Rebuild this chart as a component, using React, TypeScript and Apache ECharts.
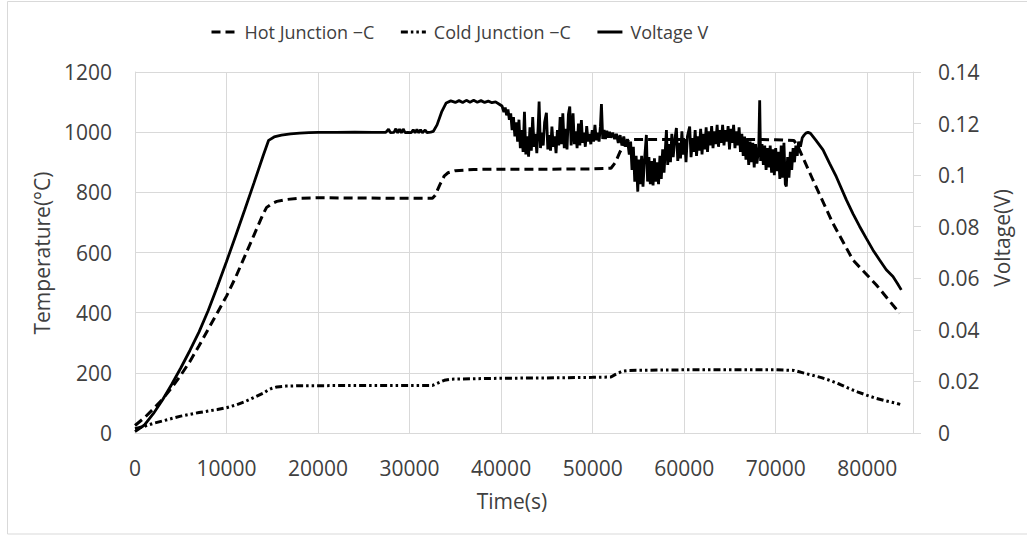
import React, { useEffect, useRef } from 'react';
import * as echarts from 'echarts';

// [time (s), temperature (°C)]
const hotJunction: [number, number][] = [
  [0, 25], [1000, 50], [2000, 80], [3000, 112], [4000, 150], [5000, 192], [6000, 238], [7000, 290],
  [8000, 345], [9000, 400], [10000, 455], [11000, 518], [12000, 588], [13000, 658], [14000, 728],
  [14380, 750], [15000, 763], [15500, 770], [16500, 776], [17700, 780], [20000, 782], [25000, 781],
  [30000, 780], [32500, 780], [32800, 790], [33300, 825], [33800, 855], [34200, 865], [35000, 872],
  [37000, 876], [40000, 877], [45000, 877], [50000, 878], [52000, 880], [52500, 900], [53000, 935],
  [53500, 965], [54000, 975], [56000, 976], [60000, 976], [65000, 976], [70000, 975], [72000, 972],
  [72440, 952], [74070, 841], [76250, 697], [78440, 575], [81000, 492], [83540, 398]
];

const coldJunction: [number, number][] = [
  [0, 14], [1000, 22], [2000, 32], [3000, 40], [4000, 48], [5000, 56], [6000, 62], [7000, 68],
  [8000, 73], [9000, 78], [10000, 84], [11000, 93], [12000, 104], [13000, 118], [14000, 132],
  [14500, 142], [15000, 149], [15500, 153], [16500, 156], [17700, 157], [25000, 158], [32500, 158],
  [33000, 165], [33800, 175], [34600, 179], [40000, 182], [45000, 183], [50000, 185], [52000, 186],
  [52500, 195], [53200, 205], [54000, 208], [60000, 210], [65000, 210], [70000, 210], [72000, 208],
  [73000, 200], [74000, 192], [75000, 184], [76000, 174], [77000, 162], [78000, 148], [79000, 136],
  [80000, 125], [81000, 115], [82000, 107], [83000, 100], [83600, 95]
];

// [time (s), voltage (V)]
const voltage: [number, number][] = [
  [0, 0.0005], [1000, 0.003], [2000, 0.0075], [3000, 0.0128], [4000, 0.0188], [5000, 0.0252],
  [6000, 0.032], [7000, 0.0392], [8000, 0.0475], [9000, 0.0568], [10000, 0.0665], [11000, 0.0765],
  [12000, 0.0867], [13000, 0.097], [14000, 0.1075], [14600, 0.1135], [15200, 0.1148],
  [16000, 0.1155], [17000, 0.116], [18000, 0.1163], [19000, 0.1165], [20000, 0.1166], [22000, 0.1166],
  [24000, 0.1167], [26000, 0.1166], [27400, 0.1166], [27700, 0.1178], [27900, 0.1165], [28300, 0.1166],
  [28500, 0.118], [28700, 0.1164], [28900, 0.1178], [29100, 0.1164], [29300, 0.1179], [29500, 0.1165],
  [29800, 0.1166], [30200, 0.1165], [30400, 0.1176], [30600, 0.1164], [30800, 0.1177], [31000, 0.1164],
  [31200, 0.1176], [31400, 0.1164], [31700, 0.1175], [31900, 0.1165], [32300, 0.1167], [32600, 0.117],
  [33000, 0.1195], [33500, 0.1245], [34000, 0.128], [34500, 0.1288], [35000, 0.1282], [35400, 0.1289],
  [35800, 0.1282], [36200, 0.129], [36600, 0.1283], [37000, 0.129], [37400, 0.1283], [37800, 0.1289],
  [38200, 0.1282], [38600, 0.1287], [39000, 0.1281], [39400, 0.1284], [39800, 0.1275], [40100, 0.1268],
  [40300, 0.1245], [40450, 0.1262], [40600, 0.1232], [40750, 0.1255], [40900, 0.1215], [41050, 0.124],
  [41200, 0.1175], [41350, 0.1225], [41500, 0.115], [41650, 0.1205],
  [41800, 0.113], [41950, 0.1215], [42100, 0.1105], [42250, 0.1175], [42400, 0.109], [42550, 0.1246],
  [42700, 0.108], [42850, 0.115], [43000, 0.1072], [43150, 0.1185], [43300, 0.1095], [43450, 0.1225],
  [43600, 0.111], [43750, 0.116], [43900, 0.1085], [44050, 0.119], [44150, 0.1285], [44300, 0.1105],
  [44450, 0.1165], [44600, 0.1115], [44750, 0.1205], [44950, 0.1242], [45100, 0.11], [45250, 0.1155],
  [45400, 0.1095], [45550, 0.1188], [45700, 0.111], [45850, 0.115], [46000, 0.1085], [46150, 0.1175],
  [46300, 0.1115], [46450, 0.1225], [46600, 0.112], [46740, 0.124], [46900, 0.1105], [47050, 0.118],
  [47200, 0.11], [47350, 0.1235], [47500, 0.1266], [47650, 0.1115], [47860, 0.124], [48000, 0.112],
  [48150, 0.117], [48300, 0.1105], [48450, 0.12], [48600, 0.1115], [48770, 0.1214], [48900, 0.1125],
  [49050, 0.1165], [49200, 0.111], [49350, 0.119], [49500, 0.113], [49650, 0.116], [49800, 0.112],
  [49950, 0.1175], [50100, 0.113], [50250, 0.1195], [50400, 0.1135], [50550, 0.1165], [50700, 0.113],
  [50850, 0.119], [50960, 0.1276], [51100, 0.114], [51250, 0.1175], [51400, 0.114], [51550, 0.1172],
  [51700, 0.1145], [51850, 0.1168], [52000, 0.1145], [52200, 0.1165], [52400, 0.114], [52600, 0.116],
  [52800, 0.1125], [53000, 0.1155], [53200, 0.1115], [53400, 0.115], [53600, 0.111], [53800, 0.114],
  [54000, 0.108], [54150, 0.113], [54300, 0.102], [54450, 0.111], [54600, 0.0975], [54750, 0.1075],
  [54930, 0.0936], [55050, 0.106], [55200, 0.0965], [55350, 0.1075], [55500, 0.0955], [55650, 0.105],
  [55870, 0.1156], [56000, 0.0975], [56150, 0.107], [56300, 0.0965], [56450, 0.1055], [56600, 0.096],
  [56750, 0.1065], [56900, 0.0975], [57050, 0.105], [57200, 0.0965], [57350, 0.1075], [57500, 0.0985],
  [57650, 0.11], [57800, 0.101], [58060, 0.1175], [58200, 0.104], [58350, 0.112], [58500, 0.105],
  [58650, 0.116], [58800, 0.107], [58950, 0.113], [59150, 0.1183], [59300, 0.1055], [59450, 0.1125],
  [59600, 0.1065], [59750, 0.117], [59900, 0.108], [60050, 0.114], [60200, 0.105], [60350, 0.115],
  [60600, 0.1188], [60750, 0.107], [60900, 0.1135], [61050, 0.109], [61200, 0.1175], [61350, 0.1075],
  [61500, 0.115], [61650, 0.1095], [61800, 0.118], [61950, 0.108], [62100, 0.116], [62250, 0.11],
  [62400, 0.1185], [62550, 0.109], [62700, 0.117], [62850, 0.1115], [63000, 0.119], [63150, 0.1105],
  [63300, 0.117], [63450, 0.112], [63600, 0.1195], [63750, 0.111], [63900, 0.1175], [64050, 0.1125],
  [64200, 0.1195], [64350, 0.1115], [64500, 0.1175], [64650, 0.113], [64800, 0.119], [64950, 0.11],
  [65100, 0.118], [65250, 0.1125], [65400, 0.1195], [65550, 0.1105], [65700, 0.117], [65850, 0.1115],
  [66000, 0.1185], [66150, 0.109], [66300, 0.116], [66450, 0.1075], [66600, 0.115], [66750, 0.106],
  [66900, 0.114], [67050, 0.104], [67200, 0.113], [67350, 0.105], [67500, 0.1125], [67650, 0.103],
  [67800, 0.112], [67950, 0.1045], [68150, 0.111], [68250, 0.129], [68350, 0.1055], [68500, 0.112],
  [68650, 0.104], [68800, 0.1115], [68950, 0.102], [69100, 0.1105], [69250, 0.103], [69400, 0.1115],
  [69550, 0.101], [69700, 0.11], [69850, 0.1], [70000, 0.1105], [70150, 0.1015], [70300, 0.109],
  [70450, 0.0985], [70600, 0.1115], [70750, 0.099], [70900, 0.1125], [71050, 0.0965], [71160, 0.0956],
  [71300, 0.107], [71450, 0.099], [71600, 0.109], [71750, 0.102], [71900, 0.1105], [72050, 0.105],
  [72200, 0.1115], [72350, 0.1075], [72500, 0.113], [72700, 0.111], [72900, 0.1145],
  [73100, 0.1155], [73300, 0.1163], [73530, 0.1166], [73800, 0.1162], [74400, 0.1135], [75170, 0.1098],
  [75900, 0.1045], [76620, 0.0994], [77720, 0.0904], [78450, 0.085], [79170, 0.0801], [79900, 0.0755],
  [80620, 0.071], [81350, 0.0671], [82080, 0.0633], [82810, 0.0607], [83300, 0.058], [83720, 0.0555]
];

const seriesNames = ['Hot Junction \u2212C', 'Cold Junction \u2212C', 'Voltage V'];
const xAxisTitle = 'Time(s)';
const leftAxisTitle = 'Temperature(\u00b0C)';
const rightAxisTitle = 'Voltage(V)';

const FONT = '"Open Sans", sans-serif';
const GRAY_TEXT = '#404040';
const GRID_GRAY = '#d9d9d9';

export default function App() {
  const ref = useRef<HTMLDivElement>(null);

  useEffect(() => {
    if (!ref.current) return;
    const chart = echarts.init(ref.current, undefined, { renderer: 'svg' });
    const option: any = {
      animation: false,
      backgroundColor: '#ffffff',
      textStyle: { fontFamily: FONT },
      grid: { left: 135, right: 114, top: 72, bottom: 102, containLabel: false },
      legend: {
        left: 210,
        top: 23,
        padding: 0,
        itemWidth: 25,
        itemHeight: 14,
        itemGap: 25,
        data: seriesNames,
        itemStyle: { opacity: 0 },
        lineStyle: { width: 3 },
        textStyle: { fontFamily: FONT, fontSize: 18, color: GRAY_TEXT, padding: [0, 0, 0, 3] }
      },
      xAxis: {
        type: 'value',
        min: 0,
        max: 85000,
        interval: 10000,
        axisLine: { show: true, onZero: false, lineStyle: { color: GRID_GRAY, width: 1 } },
        axisTick: { show: false },
        splitLine: { show: true, lineStyle: { color: GRID_GRAY, width: 1 } },
        axisLabel: {
          fontFamily: FONT, fontSize: 21, color: GRAY_TEXT, margin: 24,
          showMaxLabel: false,
          formatter: (v: number) => (v > 80000 ? '' : String(v))
        }
      },
      yAxis: [
        {
          type: 'value',
          min: 0,
          max: 1200,
          interval: 200,
          position: 'left',
          axisLine: { show: true, onZero: false, lineStyle: { color: GRID_GRAY, width: 1 } },
          axisTick: { show: false },
          splitLine: { show: true, lineStyle: { color: GRID_GRAY, width: 1 } },
          axisLabel: { fontFamily: FONT, fontSize: 21, color: GRAY_TEXT, margin: 23, formatter: (v: number) => String(v) }
        },
        {
          type: 'value',
          min: 0,
          max: 0.14,
          interval: 0.02,
          position: 'right',
          axisLine: { show: true, onZero: false, lineStyle: { color: GRID_GRAY, width: 1 } },
          axisTick: { show: true, inside: false, length: 8, lineStyle: { color: GRID_GRAY, width: 1 } },
          splitLine: { show: false },
          axisLabel: { fontFamily: FONT, fontSize: 21, color: GRAY_TEXT, margin: 25, formatter: (v: number) => String(Math.round(v * 100) / 100) }
        }
      ],
      series: [
        {
          name: seriesNames[0],
          type: 'line',
          yAxisIndex: 0,
          data: hotJunction,
          symbol: 'none',
          lineStyle: { color: '#000', width: 3, type: [9, 5] },
          itemStyle: { color: '#000' },
          z: 2
        },
        {
          name: seriesNames[1],
          type: 'line',
          yAxisIndex: 0,
          data: coldJunction,
          symbol: 'none',
          lineStyle: { color: '#000', width: 3, type: [7, 3, 2.5, 3, 2.5, 3] },
          itemStyle: { color: '#000' },
          z: 2
        },
        {
          name: seriesNames[2],
          type: 'line',
          yAxisIndex: 1,
          data: voltage,
          symbol: 'none',
          lineStyle: { color: '#000', width: 2.8, type: 'solid' },
          itemStyle: { color: '#000' },
          z: 3
        }
      ],
      graphic: [
        {
          type: 'rect',
          silent: true,
          z: -10,
          shape: { x: 7.5, y: 1.5, width: 1030, height: 532.5 },
          style: { fill: 'none', stroke: GRID_GRAY, lineWidth: 1 }
        },
        {
          type: 'text',
          x: 42,
          y: 253,
          rotation: Math.PI / 2,
          style: { text: leftAxisTitle, fontFamily: FONT, fontSize: 21, fill: GRAY_TEXT, align: 'center', verticalAlign: 'middle' }
        },
        {
          type: 'text',
          x: 1002,
          y: 238,
          rotation: Math.PI / 2,
          style: { text: rightAxisTitle, fontFamily: FONT, fontSize: 21, fill: GRAY_TEXT, align: 'center', verticalAlign: 'middle' }
        },
        {
          type: 'text',
          x: 512,
          y: 501,
          style: { text: xAxisTitle, fontFamily: FONT, fontSize: 21, fill: GRAY_TEXT, align: 'center', verticalAlign: 'middle' }
        }
      ]
    };
    chart.setOption(option);
    return () => chart.dispose();
  }, []);

  return (
    <div
      ref={ref}
      style={{ position: 'absolute', left: 0, top: 0, width: 1027, height: 535 }}
    />
  );
}
